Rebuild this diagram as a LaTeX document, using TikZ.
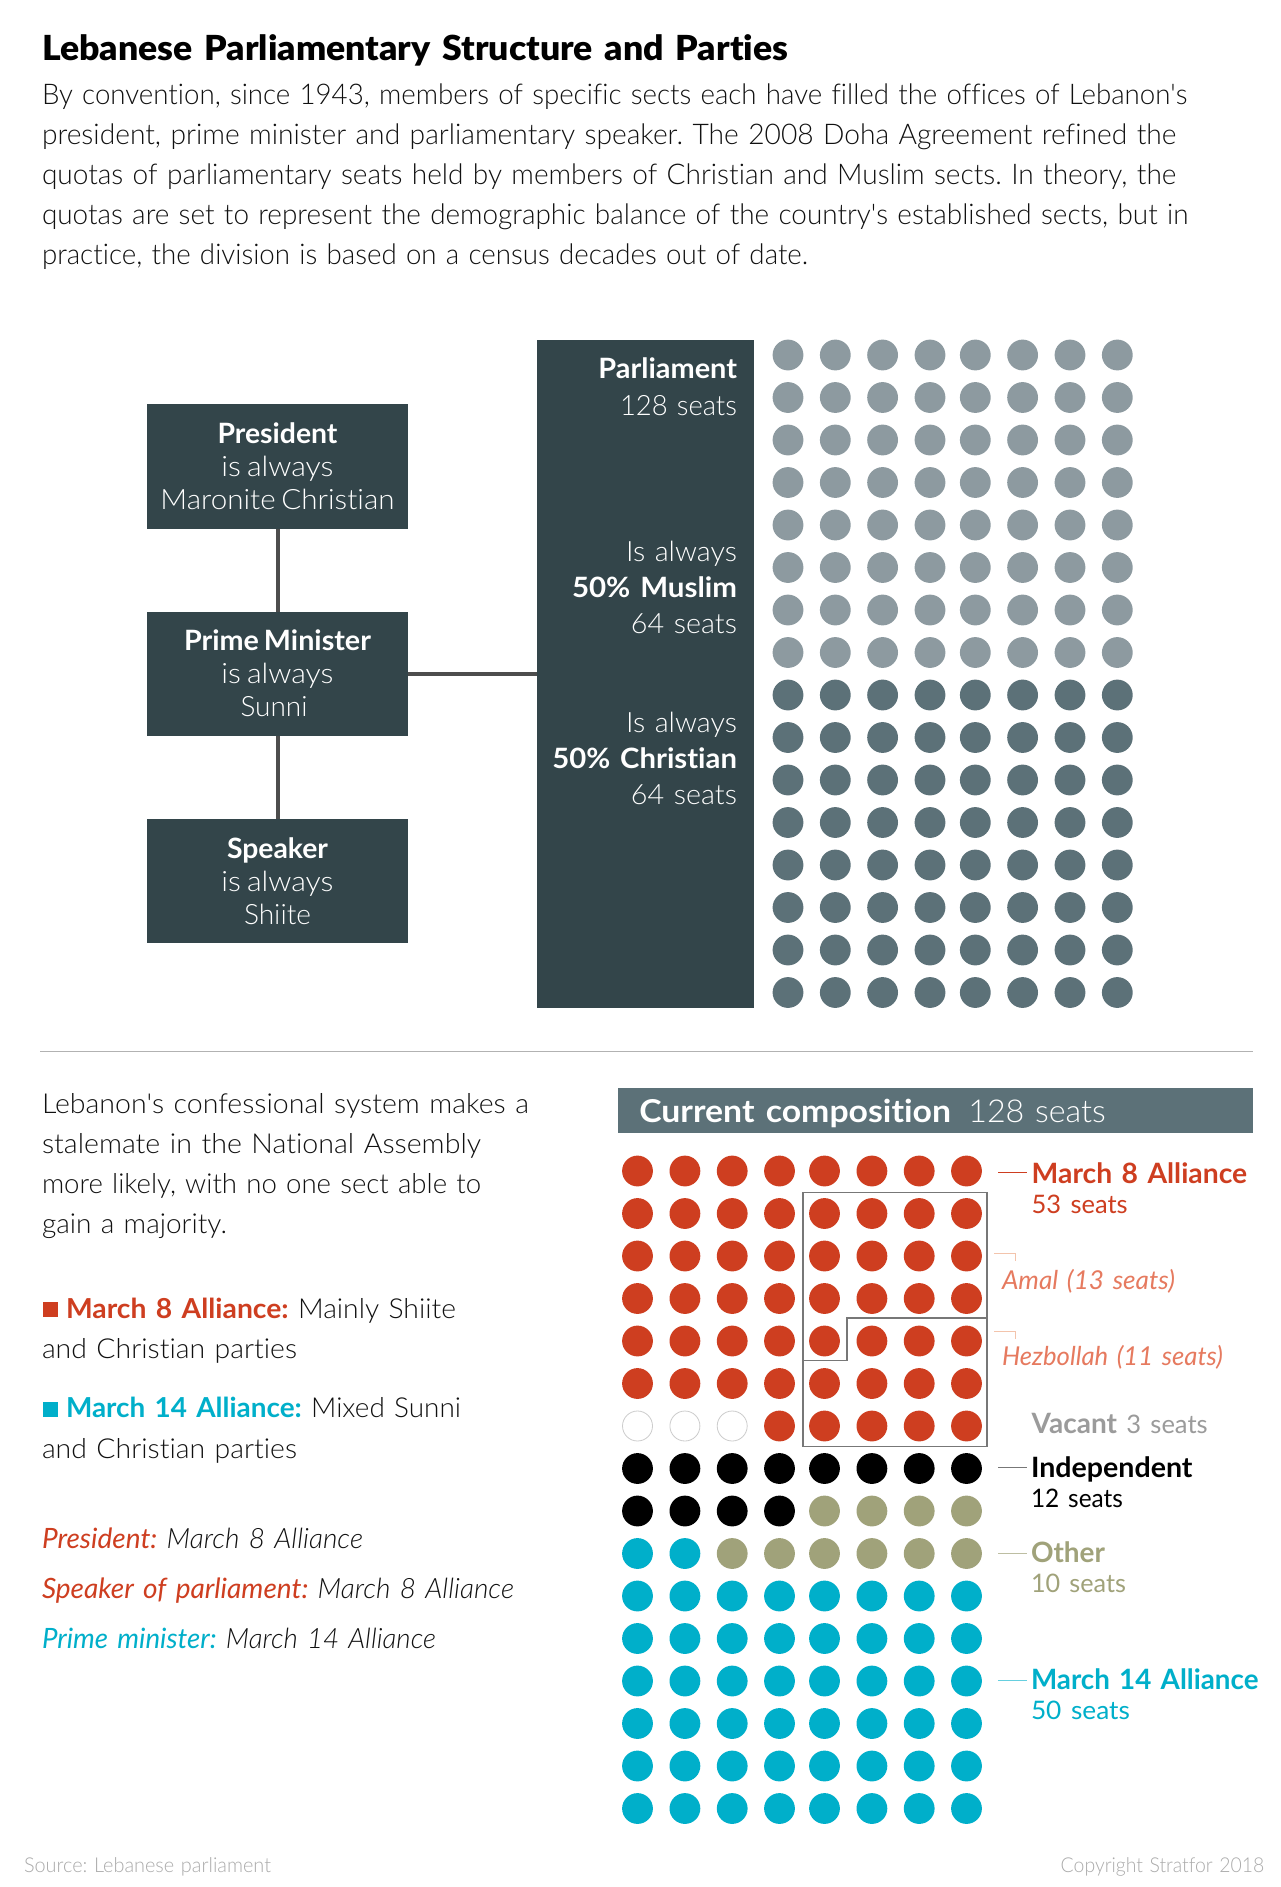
\documentclass[tikz,border=0pt]{standalone}
\usepackage{fontspec}
\usepackage{graphicx}
\defaultfontfeatures[\rmfamily]{}
\setmainfont{Lato Light}[BoldFont={Lato Bold},ItalicFont={Lato Light Italic},BoldItalicFont={Lato Italic},WordSpace=0.72,Ligatures=NoCommon]
\newfontface\titlef{Lato Black}[WordSpace=0.72,Ligatures=NoCommon]
\newfontface\regf{Lato}[WordSpace=0.72,Ligatures=NoCommon]
\frenchspacing
\definecolor{slate}{HTML}{33454A}
\definecolor{darkdot}{HTML}{5C7178}
\definecolor{lightdot}{HTML}{8D9AA0}
\definecolor{redc}{HTML}{CE3E20}
\definecolor{cyanc}{HTML}{00AFCA}
\definecolor{olivec}{HTML}{A0A27A}
\definecolor{inkc}{HTML}{111111}
\definecolor{greyt}{HTML}{9B9B9B}
\definecolor{srcgrey}{HTML}{ABABAB}
\definecolor{amalc}{HTML}{E67A5F}
\definecolor{tickc}{HTML}{F3C4AC}
\definecolor{linec}{HTML}{4D4D4D}
\definecolor{outlinec}{HTML}{777777}
\newcommand\fw[2]{\resizebox{#1pt}{\height}{#2}}
\newcommand\sz[2]{\fontsize{#1}{#2}\selectfont}
\tikzset{
  lbl/.style={inner sep=0pt,outer sep=0pt,anchor=base west,text width=700pt,align=left,text=inkc},
  rlbl/.style={inner sep=0pt,outer sep=0pt,anchor=base east,text width=300pt,align=right,text=white},
  darkbox/.style={fill=slate,draw=none,inner sep=0pt,outer sep=0pt,minimum width=260.4pt,minimum height=124.2pt,text=white,align=center,font=\sz{28}{33}},
  conn/.style={draw=linec,line width=4pt},
  leader/.style={line width=1.3pt},
  groupline/.style={draw=outlinec,line width=1.2pt},
}
\begin{document}
\begin{tikzpicture}[x=1pt,y=-1pt]
\useasboundingbox (0,0) rectangle (1280,1887);
\fill[white] (0,0) rectangle (1280,1887);
% heading
\node[lbl,text=black,font=\titlef\sz{34.5}{40}] (title) at (42,60) {\fw{746}{Lebanese Parliamentary Structure and Parties}};
\node[lbl,font=\sz{28.5}{40}] (intro) at (42,104) {\fw{1145}{By convention, since 1943, members of specific sects each have filled the offices of Lebanon's}\\
\fw{1134}{president, prime minister and parliamentary speaker. The 2008 Doha Agreement refined the}\\
\fw{1134}{quotas of parliamentary seats held by members of Christian and Muslim sects. In theory, the}\\
\fw{1146}{quotas are set to represent the demographic balance of the country's established sects, but in}\\
\fw{766}{practice, the division is based on a census decades out of date.}};
% office boxes
\node[darkbox] (president) at (277.5,466.5) {\fw{120}{\textbf{President}}\\\fw{112}{is always}\\\fw{234}{Maronite Christian}};
\node[darkbox] (prime) at (277.5,673.65) {\fw{187}{\textbf{Prime Minister}}\\\fw{112}{is always}\\\fw{67}{Sunni}\rule{7pt}{0pt}};
\node[darkbox] (speaker) at (277.5,880.7) {\fw{101}{\textbf{Speaker}}\\\fw{112}{is always}\\\fw{67}{Shiite}};
\node[fill=slate,inner sep=0pt,outer sep=0pt,minimum width=217pt,minimum height=668pt] (parl) at (645.5,674) {};
\draw[conn] (president) -- (prime);
\draw[conn] (prime) -- (speaker);
\draw[conn] (prime.east) -- (prime.east -| parl.west);
\node[rlbl,font=\sz{28}{37}] (parlt) at (737,378) {\fw{138.5}{\textbf{Parliament}}\\\fw{117}{128 seats}};
\node[rlbl,font=\sz{28}{36}] (muslim) at (737,561) {\fw{111}{Is always}\\\fw{165}{\textbf{50\% Muslim}}\\\fw{106}{64 seats}};
\node[rlbl,font=\sz{28}{36}] (christian) at (737,732) {\fw{111}{Is always}\\\fw{184.5}{\textbf{50\% Christian}}\\\fw{106}{64 seats}};
% parliament dots
\foreach \x in {788,835.3,882.6,930,975.3,1022.6,1070,1117.3}{
  \foreach \r in {0,...,7}{\fill[lightdot] (\x,355+42.5*\r) circle[radius=15.4];}
  \foreach \r in {8,...,15}{\fill[darkdot] (\x,355+42.5*\r) circle[radius=15.4];}
}
% divider
\coordinate (ruleL) at (40,1051.7);
\coordinate (ruleR) at (1253,1051.7);
\draw[draw=black!30,line width=1.2pt] (ruleL) -- (ruleR);
% lower left text
\node[lbl,font=\sz{27.5}{40}] (conf) at (42,1113.3) {\fw{487}{Lebanon's confessional system makes a}\\\fw{439}{stalemate in the National Assembly}\\\fw{439}{more likely, with no one sect able to}\\\fw{185}{gain a majority.}};
\fill[redc] (42.7,1301.7) rectangle (58,1316.7);
\node[lbl,font=\sz{27.5}{40}] (m8t) at (66,1318) {\fw{390}{\textcolor{redc}{\textbf{March 8 Alliance:}} Mainly Shiite}};
\node[lbl,font=\sz{27.5}{40}] (m8u) at (42,1358) {\fw{255}{and Christian parties}};
\fill[cyanc] (42.7,1401.7) rectangle (58,1416.7);
\node[lbl,font=\sz{27.5}{40}] (m14t) at (66,1417.5) {\fw{395}{\textcolor{cyanc}{\textbf{March 14 Alliance:}} Mixed Sunni}};
\node[lbl,font=\sz{27.5}{40}] (m14u) at (42,1458) {\fw{255}{and Christian parties}};
\node[lbl,font=\itshape\sz{28}{50}] (roles) at (42,1548.3) {\fw{321}{\textcolor{redc}{\textbf{President:}} March 8 Alliance}\\
\fw{472}{\textcolor{redc}{\textbf{Speaker of parliament:}} March 8 Alliance}\\
\fw{394}{\textcolor{cyanc}{\textbf{Prime minister:}} March 14 Alliance}};
% header
\fill[darkdot] (617.6,1088) rectangle (1252.6,1133.3);
\node[lbl,text=white,font=\sz{31.5}{36}] (cur) at (639.3,1122) {\fw{311.7}{\textbf{Current composition}}\hspace{17.3pt}\fw{137.5}{128 seats}};
% composition dots
\def\colsx{637.5,684.9,732.2,779.5,824.5,871.9,919.2,966.5}
\foreach \x [count=\c from 0] in \colsx {
  \foreach \r in {0,...,15}{
    \pgfmathtruncatemacro\n{\r*8+\c}
    \ifnum\n<48 \def\dc{redc}\else
    \ifnum\n<51 \def\dc{vac}\else
    \ifnum\n<56 \def\dc{redc}\else
    \ifnum\n<68 \def\dc{black}\else
    \ifnum\n<72 \def\dc{olivec}\else
    \ifnum\n<74 \def\dc{cyanc}\else
    \ifnum\n<80 \def\dc{olivec}\else
    \def\dc{cyanc}\fi\fi\fi\fi\fi\fi\fi
    \def\vv{vac}
    \ifx\dc\vv
      \draw[draw=black!20,fill=white,line width=0.8pt] (\x,1171+42.5*\r) circle[radius=15];
    \else
      \fill[\dc] (\x,1171+42.5*\r) circle[radius=15.4];
    \fi
  }
}
% party group outline
\draw[groupline,line join=miter] (803,1192.3) -- (987,1192.3) -- (987,1446.7) -- (803,1446.7) -- cycle;
\draw[groupline] (987,1318) -- (847,1318) -- (847,1360.7) -- (803,1360.7);
% legend
\coordinate (a8) at (998,1172.3); \coordinate (b8) at (1026.7,1172.3);
\draw[leader,draw=redc] (a8) -- (b8);
\coordinate (aA) at (994,1253.7); \coordinate (bA) at (1015.7,1253.7); \coordinate (cA) at (1015.7,1261);
\draw[line width=1.1pt,draw=tickc] (aA) -- (bA) -- (cA);
\coordinate (aH) at (994,1331.7); \coordinate (bH) at (1015.7,1331.7); \coordinate (cH) at (1015.7,1338.7);
\draw[line width=1.1pt,draw=tickc] (aH) -- (bH) -- (cH);
\coordinate (aI) at (998,1467.7); \coordinate (bI) at (1026.7,1467.7);
\draw[leader,draw=outlinec] (aI) -- (bI);
\coordinate (aO) at (998,1553.3); \coordinate (bO) at (1026.7,1553.3);
\draw[leader,draw=olivec!70] (aO) -- (bO);
\coordinate (aM) at (998,1680.7); \coordinate (bM) at (1026.7,1680.7);
\draw[leader,draw=cyanc!60] (aM) -- (bM);
\node[lbl,text=redc,font=\sz{28}{30}] (l8) at (1031.7,1183.8) {\fw{215.5}{\textbf{March 8 Alliance}}\\\fw{96}{\regf\sz{25.5}{30}53 seats}};
\node[lbl,text=amalc,font=\itshape\sz{26}{30}] (lA) at (1002,1289.3) {\fw{173}{\textbf{Amal (13 seats)}}};
\node[lbl,text=amalc,font=\itshape\sz{26}{30}] (lH) at (1002,1365.7) {\fw{221}{\textbf{Hezbollah (11 seats)}}};
\node[lbl,text=greyt,font=\sz{28}{30}] (lV) at (1031.7,1433.8) {\fw{176}{\textbf{Vacant} {\regf\sz{25.5}{30}3 seats}}};
\node[lbl,text=black,font=\sz{28}{30}] (lI) at (1031,1477.5) {\fw{161.5}{\textbf{Independent}}\\\fw{92}{\regf\sz{25.5}{30}12 seats}};
\node[lbl,text=olivec,font=\sz{28}{30}] (lO) at (1031,1562.8) {\fw{74}{\textbf{Other}}\\\fw{95}{\regf\sz{25.5}{30}10 seats}};
\node[lbl,text=cyanc,font=\sz{28}{30}] (lM) at (1031,1689.8) {\fw{227.5}{\textbf{March 14 Alliance}}\\\fw{99}{\regf\sz{25.5}{30}50 seats}};
% footer
\node[lbl,text=srcgrey,font=\sz{20.5}{24}] (src) at (24,1872) {\fw{247}{Source: Lebanese parliament}};
\node[lbl,text=srcgrey,font=\sz{20.5}{24},text width=240pt] (copy) at (1060.7,1872) {\fw{203.5}{Copyright Stratfor 2018}};
\end{tikzpicture}
\end{document}
